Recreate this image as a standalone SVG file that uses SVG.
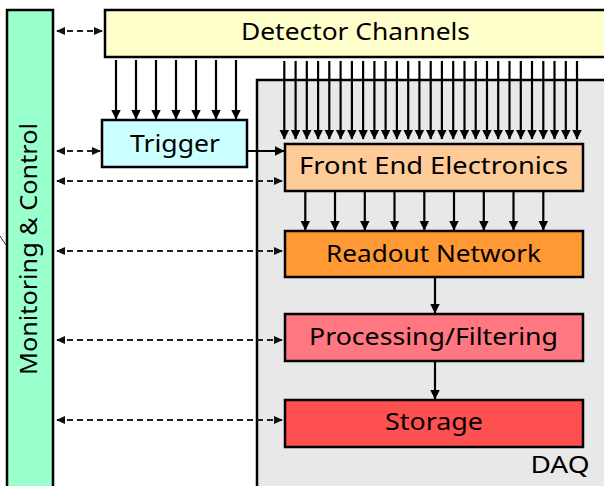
<svg xmlns="http://www.w3.org/2000/svg" width="604" height="499" viewBox="0 0 604 499">
<defs>
<marker id="ah" markerUnits="userSpaceOnUse" markerWidth="10" markerHeight="11" viewBox="0 0 10 11" refX="9.5" refY="5.5" orient="auto">
<path d="M0,0.5 L10,5.5 L0,10.5 Z" fill="#000"/>
</marker>
<marker id="dh" markerUnits="userSpaceOnUse" markerWidth="9" markerHeight="10" viewBox="0 0 10 10" refX="9" refY="5" orient="auto-start-reverse">
<path d="M0,0.5 L10,5 L0,9.5 Z" fill="#111"/>
</marker>
</defs>
<style>
.box{stroke:#000;stroke-width:2.5}
.t{font-family:"Noto Sans","DejaVu Sans",sans-serif;font-size:24px;fill:#000;text-anchor:middle}
.a{stroke:#000;stroke-width:2.2;fill:none;marker-end:url(#ah)}
.d{stroke:#222;stroke-width:2;fill:none;stroke-dasharray:6 4;marker-start:url(#dh);marker-end:url(#dh)}
</style>
<rect width="604" height="499" fill="#fff"/>
<g id="daq">
<rect x="257" y="80" width="350" height="406" fill="#e8e8e8"/>
<path d="M257,486 V80 H610" fill="none" stroke="#000" stroke-width="2.5"/>
<text class="t" x="560" y="473" textLength="59" lengthAdjust="spacingAndGlyphs">DAQ</text>
</g>
<g id="monitoring">
<path d="M7,486 V10 H53 V486" fill="#99ffcc" stroke="#000" stroke-width="2.5"/>
<text class="t" transform="translate(37,249) rotate(-90)" textLength="252" lengthAdjust="spacingAndGlyphs">Monitoring &amp; Control</text>
<line x1="0" y1="236" x2="6" y2="245" stroke="#333" stroke-width="1"/>
</g>
<g id="detector">
<rect class="box" x="105" y="10" width="510" height="47" fill="#ffffcc"/>
<text class="t" x="355.5" y="40" textLength="229" lengthAdjust="spacingAndGlyphs">Detector Channels</text>
</g>
<g id="trigger">
<rect class="box" x="102" y="120" width="145" height="47" fill="#ccffff"/>
<text class="t" x="175" y="152" textLength="90" lengthAdjust="spacingAndGlyphs">Trigger</text>
</g>
<g id="fee">
<rect class="box" x="285" y="144" width="298" height="47" fill="#ffcc99"/>
<text class="t" x="433.5" y="174" textLength="269" lengthAdjust="spacingAndGlyphs">Front End Electronics</text>
</g>
<g id="readout">
<rect class="box" x="285" y="231" width="298" height="46" fill="#ff9933"/>
<text class="t" x="433.5" y="262" textLength="215" lengthAdjust="spacingAndGlyphs">Readout Network</text>
</g>
<g id="processing">
<rect class="box" x="285" y="314" width="298" height="47" fill="#ff7780"/>
<text class="t" x="433.5" y="345" textLength="249" lengthAdjust="spacingAndGlyphs">Processing/Filtering</text>
</g>
<g id="storage">
<rect class="box" x="285" y="400" width="298" height="47" fill="#ff5050"/>
<text class="t" x="434" y="430" textLength="98" lengthAdjust="spacingAndGlyphs">Storage</text>
</g>
<g id="connectors">
<line class="a" x1="116" y1="60" x2="116" y2="119"/>
<line class="a" x1="136" y1="60" x2="136" y2="119"/>
<line class="a" x1="156" y1="60" x2="156" y2="119"/>
<line class="a" x1="176" y1="60" x2="176" y2="119"/>
<line class="a" x1="196" y1="60" x2="196" y2="119"/>
<line class="a" x1="216" y1="60" x2="216" y2="119"/>
<line class="a" x1="236" y1="60" x2="236" y2="119"/>
<line class="a" x1="284.3" y1="61" x2="284.3" y2="139"/>
<line class="a" x1="295.6" y1="61" x2="295.6" y2="139"/>
<line class="a" x1="306.8" y1="61" x2="306.8" y2="139"/>
<line class="a" x1="318.1" y1="61" x2="318.1" y2="139"/>
<line class="a" x1="329.3" y1="61" x2="329.3" y2="139"/>
<line class="a" x1="340.6" y1="61" x2="340.6" y2="139"/>
<line class="a" x1="351.9" y1="61" x2="351.9" y2="139"/>
<line class="a" x1="363.1" y1="61" x2="363.1" y2="139"/>
<line class="a" x1="374.4" y1="61" x2="374.4" y2="139"/>
<line class="a" x1="385.6" y1="61" x2="385.6" y2="139"/>
<line class="a" x1="396.9" y1="61" x2="396.9" y2="139"/>
<line class="a" x1="408.2" y1="61" x2="408.2" y2="139"/>
<line class="a" x1="419.4" y1="61" x2="419.4" y2="139"/>
<line class="a" x1="430.7" y1="61" x2="430.7" y2="139"/>
<line class="a" x1="441.9" y1="61" x2="441.9" y2="139"/>
<line class="a" x1="453.2" y1="61" x2="453.2" y2="139"/>
<line class="a" x1="464.5" y1="61" x2="464.5" y2="139"/>
<line class="a" x1="475.7" y1="61" x2="475.7" y2="139"/>
<line class="a" x1="487.0" y1="61" x2="487.0" y2="139"/>
<line class="a" x1="498.2" y1="61" x2="498.2" y2="139"/>
<line class="a" x1="509.5" y1="61" x2="509.5" y2="139"/>
<line class="a" x1="520.8" y1="61" x2="520.8" y2="139"/>
<line class="a" x1="532.0" y1="61" x2="532.0" y2="139"/>
<line class="a" x1="543.3" y1="61" x2="543.3" y2="139"/>
<line class="a" x1="554.5" y1="61" x2="554.5" y2="139"/>
<line class="a" x1="565.8" y1="61" x2="565.8" y2="139"/>
<line class="a" x1="577.0" y1="61" x2="577.0" y2="139"/>
<line class="a" x1="247" y1="151" x2="284" y2="151"/>
<line class="a" x1="305.3" y1="192" x2="305.3" y2="230"/>
<line class="a" x1="335.0" y1="192" x2="335.0" y2="230"/>
<line class="a" x1="364.8" y1="192" x2="364.8" y2="230"/>
<line class="a" x1="394.5" y1="192" x2="394.5" y2="230"/>
<line class="a" x1="424.3" y1="192" x2="424.3" y2="230"/>
<line class="a" x1="454.0" y1="192" x2="454.0" y2="230"/>
<line class="a" x1="483.8" y1="192" x2="483.8" y2="230"/>
<line class="a" x1="513.5" y1="192" x2="513.5" y2="230"/>
<line class="a" x1="543.3" y1="192" x2="543.3" y2="230"/>
<line class="a" x1="435" y1="278" x2="435" y2="313"/>
<line class="a" x1="435" y1="362" x2="435" y2="399"/>
<line class="d" x1="57" y1="31" x2="102" y2="31"/>
<line class="d" x1="57" y1="151" x2="100" y2="151"/>
<line class="d" x1="57" y1="181" x2="282" y2="181"/>
<line class="d" x1="57" y1="251" x2="282" y2="251"/>
<line class="d" x1="57" y1="340" x2="282" y2="340"/>
<line class="d" x1="57" y1="420" x2="282" y2="420"/>
</g>
</svg>
